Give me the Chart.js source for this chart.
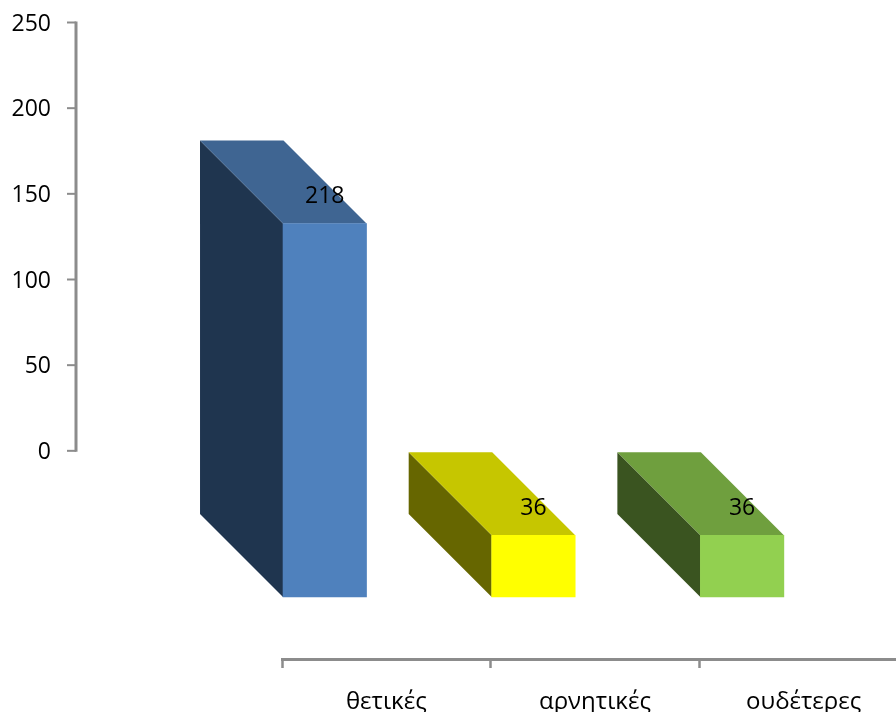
<!DOCTYPE html>
<html lang="el">
<head>
<meta charset="utf-8">
<style>
html,body{margin:0;padding:0;background:#fff;width:896px;height:712px;overflow:hidden}
canvas{display:block}
</style>
<script src="https://cdn.jsdelivr.net/npm/chart.js@4/dist/chart.umd.min.js"></script>
</head>
<body>
<canvas id="c" width="908" height="712" style="width:908px;height:712px"></canvas>
<script>
const categories = ['θετικές', 'αρνητικές', 'ουδέτερες'];
const values = [218, 36, 36];
const yTicks = [0, 50, 100, 150, 200, 250];
const frontColors = ['#4F81BD', '#FFFF00', '#92D050'];
const sideColors = ['#1F354F', '#666600', '#3A5420'];
const topColors = ['#3F6592', '#C6C600', '#6F9F3E'];

const FONT = '"Open Sans","Noto Sans",sans-serif';
const AXIS = '#8C8C8C';
const DEPTH = 83;
const BAR_SHIFT = -0.295;

const box3d = {
  id: 'box3d',
  afterDatasetsUpdate(chart) {
    const x = chart.scales.x;
    chart.getDatasetMeta(0).data.forEach((bar, i) => { bar.x = x.getPixelForValue(i + BAR_SHIFT); });
  },
  beforeDatasetsDraw(chart) {
    const ctx = chart.ctx;
    chart.getDatasetMeta(0).data.forEach((bar, i) => {
      const l = bar.x - bar.width / 2, r = bar.x + bar.width / 2, t = bar.y, b = bar.base;
      ctx.fillStyle = sideColors[i];
      ctx.beginPath();
      ctx.moveTo(l, t); ctx.lineTo(l - DEPTH, t - DEPTH); ctx.lineTo(l - DEPTH, b - DEPTH); ctx.lineTo(l, b);
      ctx.closePath(); ctx.fill();
      ctx.fillStyle = topColors[i];
      ctx.beginPath();
      ctx.moveTo(l, t); ctx.lineTo(r, t); ctx.lineTo(r - DEPTH, t - DEPTH); ctx.lineTo(l - DEPTH, t - DEPTH);
      ctx.closePath(); ctx.fill();
    });
  },
  afterDatasetsDraw(chart) {
    const ctx = chart.ctx;
    ctx.save();
    ctx.font = '23px ' + FONT;
    ctx.fillStyle = '#000';
    ctx.textAlign = 'center';
    ctx.textBaseline = 'middle';
    chart.getDatasetMeta(0).data.forEach((bar, i) => {
      ctx.fillText(String(values[i]), bar.x, bar.y - 27);
    });
    ctx.restore();
  },
  afterDraw(chart) {
    const y = chart.scales.y, ctx = chart.ctx;
    ctx.save();
    ctx.strokeStyle = AXIS;
    ctx.lineWidth = 3;
    ctx.beginPath();
    ctx.moveTo(76, y.getPixelForValue(250) - 1);
    ctx.lineTo(76, y.getPixelForValue(0) + 1);
    ctx.stroke();
    ctx.lineWidth = 2;
    yTicks.forEach(v => {
      const p = y.getPixelForValue(v);
      ctx.beginPath();
      ctx.moveTo(67, p);
      ctx.lineTo(76, p);
      ctx.stroke();
    });
    ctx.restore();
  }
};

new Chart(document.getElementById('c'), {
  type: 'bar',
  data: {
    labels: categories,
    datasets: [{
      data: values,
      yAxisID: 'yFront',
      backgroundColor: frontColors,
      borderWidth: 0,
      barThickness: 83.5
    }]
  },
  plugins: [box3d],
  options: {
    responsive: false,
    animation: false,
    layout: { autoPadding: false, padding: { left: 282, top: 22.5, right: 0, bottom: 0 } },
    plugins: { legend: { display: false }, tooltip: { enabled: false }, title: { display: false } },
    scales: {
      x: {
        type: 'category',
        position: 'bottom',
        offset: true,
        afterFit(scale) { scale.height = 53; },
        border: { display: true, color: AXIS, width: 3 },
        grid: { offset: true, drawOnChartArea: false, drawTicks: true, tickLength: 9, tickWidth: 2.5, tickColor: AXIS },
        ticks: { color: '#000', maxRotation: 0, minRotation: 0, padding: 22, font: { family: FONT, size: 24, lineHeight: 1 } }
      },
      y: {
        type: 'linear',
        position: { x: -1.607 },
        min: -121.5,
        max: 250,
        afterBuildTicks(scale) { scale.ticks = yTicks.map(v => ({ value: v })); },
        border: { display: false },
        grid: { display: false },
        ticks: { color: '#000', padding: 0, labelOffset: 1.5, font: { family: FONT, size: 23 } }
      },
      yFront: {
        type: 'linear',
        axis: 'y',
        display: false,
        position: 'left',
        min: -36.2,
        max: 335.3
      }
    }
  }
});
</script>
</body>
</html>
